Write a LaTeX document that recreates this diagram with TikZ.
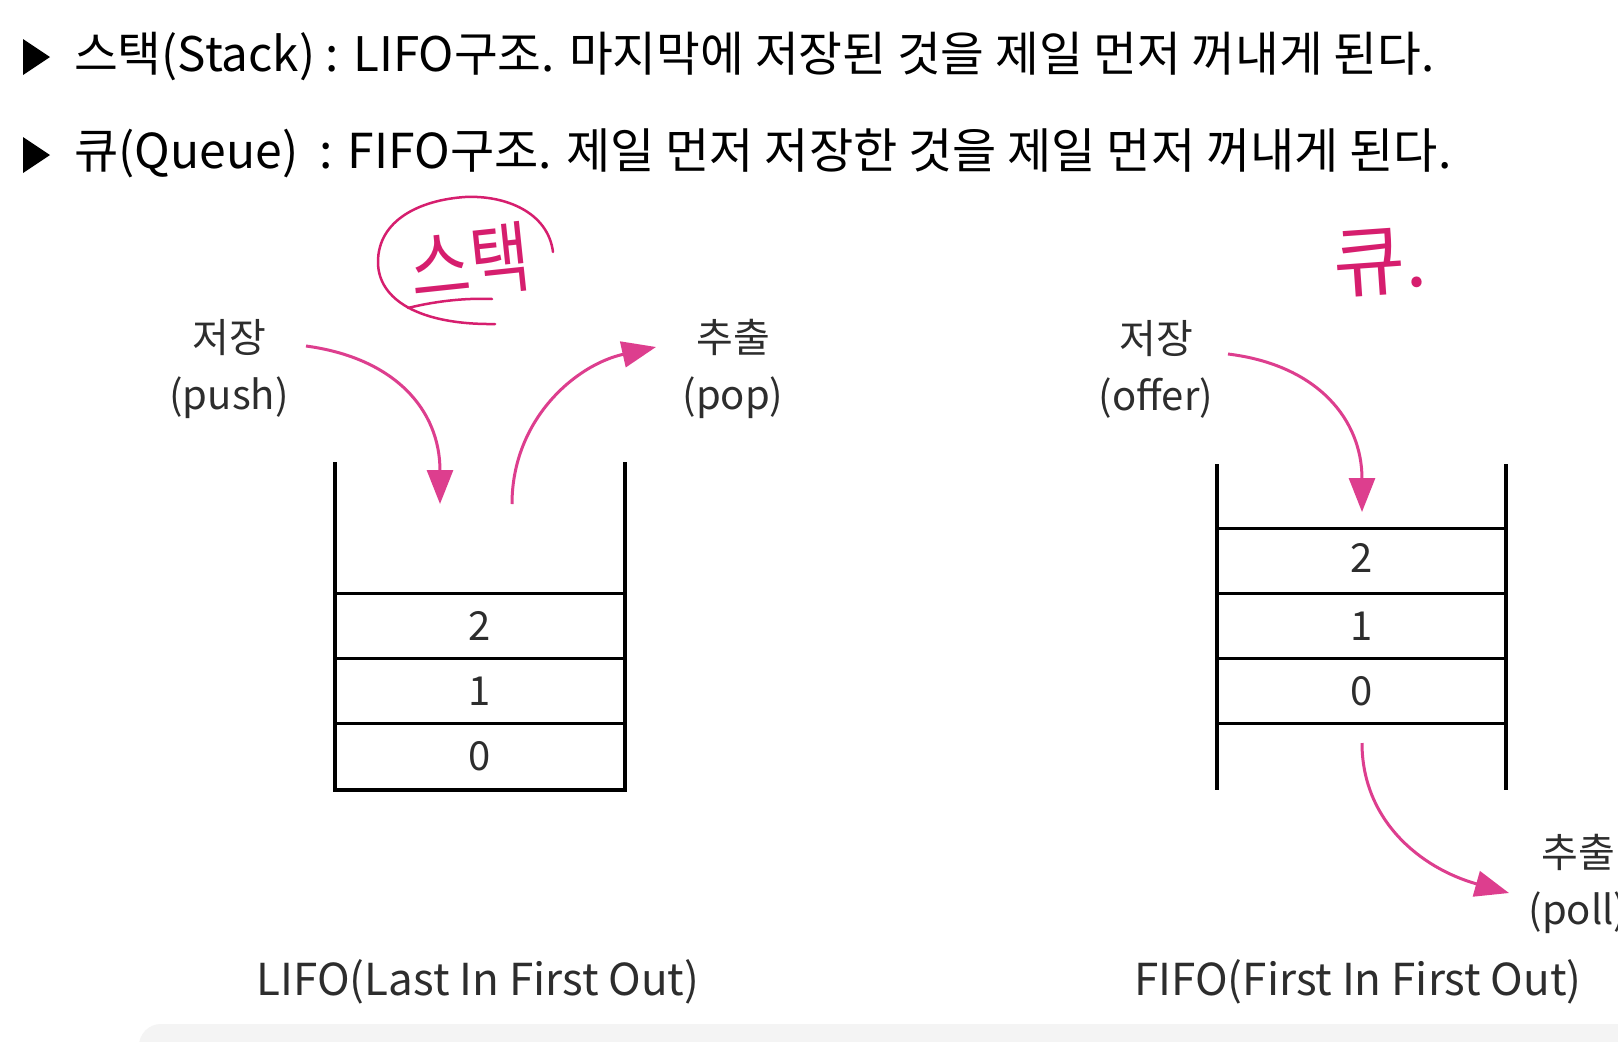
\documentclass[tikz,border=0pt]{standalone}
\usepackage{fontspec}
\setmainfont{Noto Sans CJK KR}
\usetikzlibrary{arrows.meta}
\definecolor{pinkarrow}{RGB}{221,62,142}
\definecolor{inkpink}{RGB}{214,30,110}
\definecolor{txtgray}{RGB}{45,45,45}
\definecolor{panelgray}{RGB}{244,244,244}
\begin{document}
\begin{tikzpicture}[x=1pt,y=-1pt,
  header/.style={anchor=west,inner sep=0pt,font=\fontsize{47.6}{54}\selectfont},
  lbl/.style={align=center,inner sep=0pt,text=txtgray,font=\fontsize{40}{57}\selectfont},
  cell/.style={inner sep=0pt,text=txtgray,font=\fontsize{40}{44}\selectfont},
  caption/.style={inner sep=0pt,text=txtgray,font=\fontsize{44}{50}\selectfont},
  wall/.style={line width=4pt,black},
  sep/.style={line width=3pt,black},
  flow/.style={line width=3pt,pinkarrow,-{Triangle[length=34pt,width=26pt]}},
  hand/.style={inkpink,line width=2.5pt,line cap=round},
]
\useasboundingbox (0,0) rectangle (1618,1042);
\fill[white] (0,0) rectangle (1618,1042);
% bottom panel
\fill[panelgray,rounded corners=22pt] (139,1024) rectangle (1700,1100);

% header
\fill[black] (23,39) -- (50,57) -- (23,75) -- cycle;
\node[header] (h1) at (74,56) {스택(Stack) : LIFO구조. 마지막에 저장된 것을 제일 먼저 꺼내게 된다.};
\fill[black] (23,137) -- (50,155) -- (23,173) -- cycle;
\node[header,font=\fontsize{48.1}{54}\selectfont] (h2) at (74,153) {큐(Queue)\ \ : FIFO구조. 제일 먼저 저장한 것을 제일 먼저 꺼내게 된다.};

% ---------- stack ----------
\draw[wall] (335,462) -- (335,790) -- (625,790) -- (625,462);
\draw[sep] (335,593) -- (625,593);
\draw[sep] (335,658) -- (625,658);
\draw[sep] (335,723) -- (625,723);
\node[cell] (s2) at (480,626) {2};
\node[cell] (s1) at (480,691) {1};
\node[cell] (s0) at (480,756) {0};

\node[lbl] (push) at (229,369) {저장\\(push)};
\node[lbl] (pop) at (733,369) {추출\\(pop)};
\coordinate (pushS) at (306,346);
\coordinate (pushE) at (440,504);
\coordinate (popS) at (512,504);
\coordinate (popE) at (656,347);
\draw[flow] (pushS) .. controls (395,358) and (440,410) .. (pushE);
\draw[flow] (popS) .. controls (512,420) and (575,365) .. (popE);

\node[caption] (lifo) at (478,982) {LIFO(Last In First Out)};

% ---------- queue ----------
\draw[wall] (1217,464) -- (1217,790);
\draw[wall] (1506,464) -- (1506,790);
\draw[sep] (1217,528) -- (1506,528);
\draw[sep] (1217,593) -- (1506,593);
\draw[sep] (1217,658) -- (1506,658);
\draw[sep] (1217,723) -- (1506,723);
\node[cell] (q2) at (1362,558) {2};
\node[cell] (q1) at (1362,626) {1};
\node[cell] (q0) at (1362,691) {0};

\node[lbl] (offer) at (1156,369) {저장\\(offer)};
\node[lbl] (poll) at (1578,884) {추출\\(poll)};
\coordinate (offS) at (1228,354);
\coordinate (offE) at (1362,512);
\coordinate (pollS) at (1362,743);
\coordinate (pollE) at (1509,893);
\draw[flow] (offS) .. controls (1318,365) and (1362,420) .. (offE);
\draw[flow] (pollS) .. controls (1362,820) and (1420,868) .. (pollE);

\node[caption] (fifo) at (1358,982) {FIFO(First In First Out)};

% ---------- handwritten notes ----------
\draw[hand] (553,252) .. controls (548,212) and (505,195) .. (465,197)
  .. controls (420,200) and (378,220) .. (378,262)
  .. controls (378,300) and (420,325) .. (495,324);
\draw[hand] (408,308) .. controls (440,300) and (470,298) .. (492,299);
\node[inkpink,inner sep=0pt,rotate=6,font=\fontsize{62}{66}\selectfont] (note1) at (470,262) {\scalebox{1.05}[1.25]{스택}};
\node[inkpink,inner sep=0pt,rotate=4,font=\fontsize{78}{84}\selectfont] (note2) at (1380,262) {큐.};
\end{tikzpicture}
\end{document}
